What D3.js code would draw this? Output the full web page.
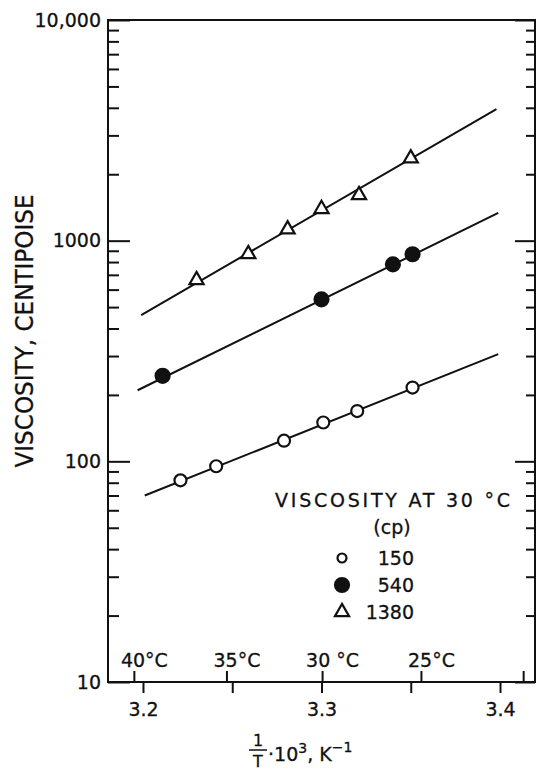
<!DOCTYPE html>
<html>
<head>
<meta charset="utf-8">
<script src="https://cdn.jsdelivr.net/npm/d3@7"></script>
<style>
body { margin: 0; background: #fff; }
text { font-family: "DejaVu Sans", sans-serif; fill: #111; stroke: #111; stroke-width: 0.3px; }
</style>
</head>
<body>
<div id="chart"></div>
<script>
// 1/T * 10^3 (K^-1) against viscosity (cp)
var x150 = [3.221, 3.241, 3.279, 3.301, 3.320, 3.351];
var v150 = [82, 95, 124, 150, 169, 216];
var x540 = [3.211, 3.300, 3.340, 3.351];
var v540 = [244, 542, 781, 868];
var x1380 = [3.230, 3.259, 3.281, 3.300, 3.321, 3.350];
var v1380 = [663, 870, 1126, 1392, 1610, 2362];

// end points of the fitted straight lines
var fitX150 = [3.201, 3.399], fitV150 = [70, 306];
var fitX540 = [3.197, 3.399], fitV540 = [210, 1335];
var fitX1380 = [3.199, 3.398], fitV1380 = [460, 3950];

var xTicks = [3.2, 3.25, 3.3, 3.35, 3.4];
var xTickLabels = ["3.2", "", "3.3", "", "3.4"];
var tempsC = [40, 35, 30, 25, 20];
var tempLabels = ["40°C", "35°C", "30 °C", "25°C", ""];
var yMajor = [10, 100, 1000, 10000];
var yMajorLabels = ["10", "100", "1000", "10,000"];
var legendTitle = "VISCOSITY AT 30 °C";
var legendUnit = "(cp)";
var legendLabels = ["150", "540", "1380"];
var legendMarks = ["open", "filled", "triangle"];

var series = [
    {x: x150, v: v150, fx: fitX150, fv: fitV150, mark: "open"},
    {x: x540, v: v540, fx: fitX540, fv: fitV540, mark: "filled"},
    {x: x1380, v: v1380, fx: fitX1380, fv: fitV1380, mark: "triangle"}
];

var width = 537, height = 772;
var x = d3.scaleLinear().domain([3.1804, 3.4196]).range([108, 535]);
var y = d3.scaleLog().domain([10, 10000]).range([682, 20]);

var yMinor = [];
[10, 100, 1000].forEach(function(d) {
    for (var k = 2; k < 10; k++) yMinor.push(k * d);
});

var svg = d3.select("#chart").append("svg")
    .attr("width", width)
    .attr("height", height);

function styleAxis(g, size) {
    g.select(".domain").remove();
    g.selectAll("line").attr("stroke", "#111").attr("stroke-width", 2);
    g.attr("font-family", "DejaVu Sans, sans-serif").attr("font-size", size);
    g.selectAll("text").attr("fill", "#111");
}

// frame
svg.append("rect")
    .attr("x", x.range()[0])
    .attr("y", y.range()[1])
    .attr("width", x.range()[1] - x.range()[0])
    .attr("height", y.range()[0] - y.range()[1])
    .attr("fill", "none")
    .attr("stroke", "#111")
    .attr("stroke-width", 2);

// left axis, ticks pointing in
svg.append("g")
    .attr("transform", "translate(" + x.range()[0] + ",0)")
    .call(d3.axisLeft(y).tickValues(yMajor).tickSize(-22).tickPadding(7)
        .tickFormat(function(d, i) { return yMajorLabels[i]; }))
    .call(styleAxis, 19);
svg.append("g")
    .attr("transform", "translate(" + x.range()[0] + ",0)")
    .call(d3.axisLeft(y).tickValues(yMinor).tickSize(-11).tickFormat(""))
    .call(styleAxis, 19);

// right axis
svg.append("g")
    .attr("transform", "translate(" + x.range()[1] + ",0)")
    .call(d3.axisRight(y).tickValues(yMajor).tickSize(-20).tickFormat(""))
    .call(styleAxis, 19);
svg.append("g")
    .attr("transform", "translate(" + x.range()[1] + ",0)")
    .call(d3.axisRight(y).tickValues(yMinor).tickSize(-9).tickFormat(""))
    .call(styleAxis, 19);

// bottom axis: 1/T ticks below, temperature ticks above
svg.append("g")
    .attr("transform", "translate(0," + y.range()[0] + ")")
    .call(d3.axisBottom(x).tickValues(xTicks).tickSize(11).tickPadding(10)
        .tickFormat(function(d, i) { return xTickLabels[i]; }))
    .call(styleAxis, 19);
svg.append("g")
    .attr("transform", "translate(0," + y.range()[0] + ")")
    .call(d3.axisTop(x).tickValues(tempsC.map(function(t) { return 1000 / (t + 273); }))
        .tickSize(11).tickPadding(4)
        .tickFormat(function(d, i) { return tempLabels[i]; }))
    .call(styleAxis, 19)
    .selectAll("text").attr("dx", 10);

// axis titles
svg.append("text")
    .attr("transform", "translate(33,331) rotate(-90)")
    .attr("text-anchor", "middle")
    .attr("font-size", 25)
    .attr("textLength", 273)
    .attr("lengthAdjust", "spacingAndGlyphs")
    .text("VISCOSITY, CENTIPOISE");

var xt = svg.append("g");
xt.append("text").attr("x", 258).attr("y", 746).attr("text-anchor", "middle")
    .attr("font-size", 16).text("1");
xt.append("line").attr("x1", 249).attr("x2", 267).attr("y1", 750).attr("y2", 750)
    .attr("stroke", "#111").attr("stroke-width", 1.5);
xt.append("text").attr("x", 258).attr("y", 767).attr("text-anchor", "middle")
    .attr("font-size", 16).text("T");
var xt2 = xt.append("text").attr("x", 268).attr("y", 761).attr("font-size", 19);
xt2.append("tspan").text("·10");
xt2.append("tspan").attr("dy", -8).attr("font-size", 14).text("3");
xt2.append("tspan").attr("dy", 8).text(", K");
xt2.append("tspan").attr("dy", -9).attr("font-size", 14).text("−1");

// fitted lines
var line = d3.line()
    .x(function(d) { return x(d[0]); })
    .y(function(d) { return y(d[1]); });

svg.append("g").selectAll("path")
    .data(series)
    .enter().append("path")
    .attr("d", function(s) { return line(d3.zip(s.fx, s.fv)); })
    .attr("fill", "none")
    .attr("stroke", "#111")
    .attr("stroke-width", 2);

function drawMark(sel, mark, r) {
    if (mark === "triangle") {
        sel.append("path")
            .attr("d", d3.symbol(d3.symbolTriangle, r * r * 2.4)())
            .attr("fill", "#fff")
            .attr("stroke", "#111")
            .attr("stroke-width", 2.2);
    } else {
        sel.append("circle")
            .attr("r", mark === "filled" ? r + 1 : r)
            .attr("fill", mark === "filled" ? "#111" : "#fff")
            .attr("stroke", "#111")
            .attr("stroke-width", 2.2);
    }
}

series.forEach(function(s) {
    svg.append("g").selectAll("g")
        .data(d3.zip(s.x, s.v))
        .enter().append("g")
        .attr("transform", function(d) { return "translate(" + x(d[0]) + "," + y(d[1]) + ")"; })
        .each(function() { drawMark(d3.select(this), s.mark, 6); });
});

// legend
var legend = svg.append("g");
legend.append("text").attr("x", 275).attr("y", 507)
    .attr("font-size", 19)
    .attr("textLength", 235)
    .text(legendTitle);
legend.append("text").attr("x", 392).attr("y", 534)
    .attr("text-anchor", "middle")
    .attr("font-size", 19)
    .text(legendUnit);

var ly = d3.scaleLinear().domain([0, legendLabels.length - 1]).range([558, 612]);
legendLabels.forEach(function(lab, i) {
    var g = legend.append("g").attr("transform", "translate(342," + ly(i) + ")");
    drawMark(g, legendMarks[i], legendMarks[i] === "open" ? 4.5 : 6);
    legend.append("text")
        .attr("x", 414)
        .attr("y", ly(i) + 7)
        .attr("text-anchor", "end")
        .attr("font-size", 19)
        .text(lab);
});
</script>
</body>
</html>
